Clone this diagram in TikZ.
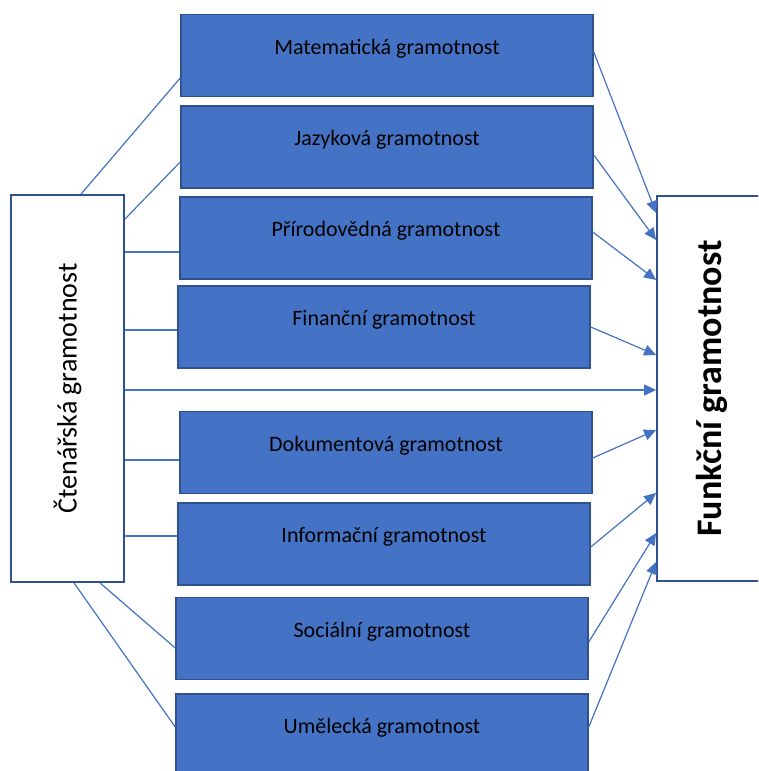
\documentclass[tikz,border=0pt]{standalone}
\usepackage{fontspec}
\setmainfont{Carlito}
\usepackage{graphicx}
\usepackage{xcolor}
\usepackage{tikz}
\usetikzlibrary{arrows.meta}
\definecolor{GRblue}{HTML}{4472C4}
\definecolor{GRdark}{HTML}{2F528F}
\tikzset{GRbox/.style={draw=GRdark,fill=GRblue,line width=1.5pt,minimum width=412pt,minimum height=82pt,inner sep=0pt,text height=15pt,text depth=17pt,font=\fontsize{22}{26}\selectfont}}
\tikzset{GRside/.style={draw=GRdark,fill=white,line width=1.8pt,inner sep=0pt}}
\tikzset{GRline/.style={draw=GRblue,line width=1.2pt}}
\tikzset{GRarrow/.style={GRline,-{Triangle[length=12pt,width=11pt]}}}

\begin{document}
\begin{tikzpicture}[x=1pt,y=1pt]
	\useasboundingbox (0,0) rectangle (758,771);
	\clip (0,0) rectangle (758,771);
	\node[GRside,minimum width=113pt,minimum height=387pt,font=\fontsize{28}{32}\selectfont] (ctn) at (67.5,382.5) {\rotatebox{90}{Čtenářská gramotnost}};
	\node[GRside,minimum width=110pt,minimum height=385pt,font=\bfseries\fontsize{36}{40}\selectfont] (fun) at (712,382.5) {\rotatebox{90}{Funkční gramotnost}};
	%
	\node[GRbox] (mat) at (387,715.5) {Matematická gramotnost};
	\node[GRbox] (jaz) at (387,624) {Jazyková gramotnost};
	\node[GRbox] (pri) at (386,533) {Přírodovědná gramotnost};
	\node[GRbox] (fin) at (384,444) {Finanční gramotnost};
	\node[GRbox] (dok) at (386,318.5) {Dokumentová gramotnost};
	\node[GRbox] (inf) at (384,227) {Informační gramotnost};
	\node[GRbox] (soc) at (382,132.5) {Sociální gramotnost};
	\node[GRbox] (ume) at (382,36) {Umělecká gramotnost};
	%
	\draw[GRline] ([xshift=13.5pt]ctn.north) -- ([yshift=-22.5pt]mat.west);
	\draw[GRline] ([yshift=-25pt]ctn.north east) -- ([yshift=-15pt]jaz.west);
	\draw[GRline] ([yshift=-14pt]pri.west -| ctn.east) -- ([yshift=-14pt]pri.west);
	\draw[GRline] ([yshift=-3pt]fin.west -| ctn.east) -- ([yshift=-3pt]fin.west);
	\draw[GRarrow] ([yshift=-1.5pt]ctn.east) -- ([yshift=-1.5pt]fun.west);
	\draw[GRline] ([yshift=-7.5pt]dok.west -| ctn.east) -- ([yshift=-7.5pt]dok.west);
	\draw[GRline] ([yshift=8pt]inf.west -| ctn.east) -- ([yshift=8pt]inf.west);
	\draw[GRline] ([xshift=32.5pt]ctn.south) -- ([yshift=-9.5pt]soc.west);
	\draw[GRline] ([xshift=6.5pt]ctn.south) -- ([yshift=8pt]ume.west);
	%
	\draw[GRarrow] ([yshift=3.5pt]mat.east) -- ([yshift=175.5pt]fun.west);
	\draw[GRarrow] ([yshift=-8pt]jaz.east) -- ([yshift=148.5pt]fun.west);
	\draw[GRarrow] ([yshift=6pt]pri.east) -- ([yshift=108.5pt]fun.west);
	\draw[GRarrow] (fin.east) -- ([yshift=33.5pt]fun.west);
	\draw[GRarrow] ([yshift=-5.5pt]dok.east) -- ([yshift=-41.5pt]fun.west);
	\draw[GRarrow] ([yshift=-3pt]inf.east) -- ([yshift=-104.5pt]fun.west);
	\draw[GRarrow] ([yshift=-3.5pt]soc.east) -- ([yshift=-144.5pt]fun.west);
	\draw[GRarrow] ([yshift=8pt]ume.east) -- ([yshift=-173.5pt]fun.west);
\end{tikzpicture}
\end{document}
